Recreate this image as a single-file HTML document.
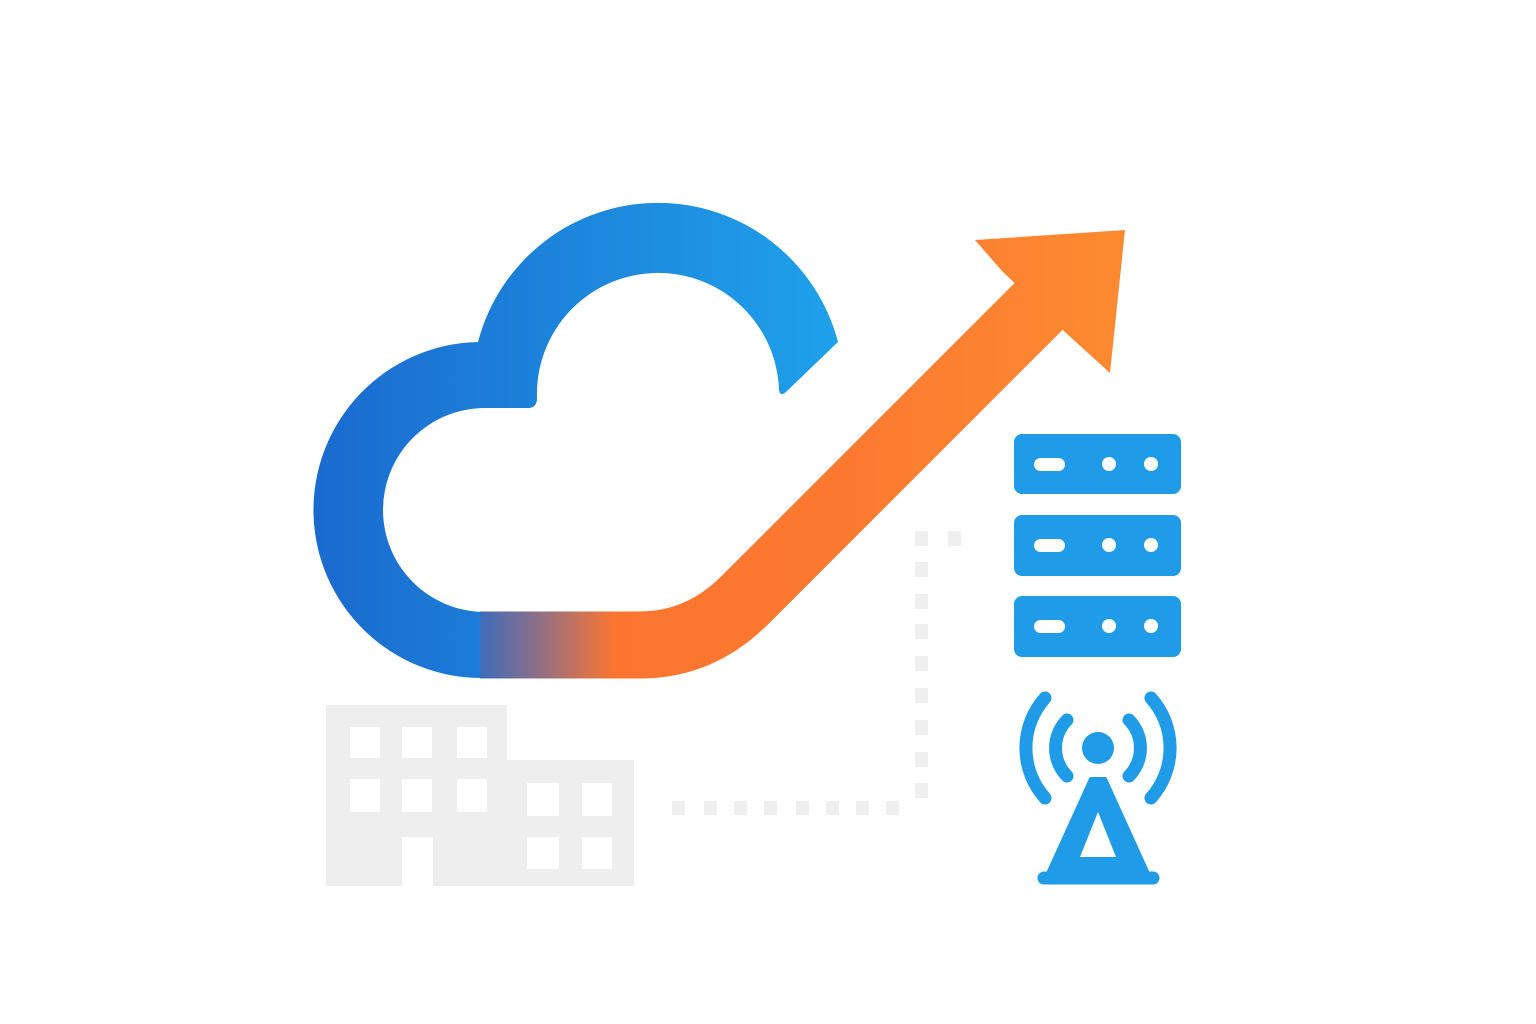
<!DOCTYPE html>
<html><head><style>html,body{margin:0;padding:0;background:#fff;}svg{display:block}</style></head>
<body>
<svg width="1536" height="1024" viewBox="0 0 1536 1024" xmlns="http://www.w3.org/2000/svg">
<defs>
<linearGradient id="cg" x1="320" y1="0" x2="840" y2="0" gradientUnits="userSpaceOnUse">
<stop offset="0" stop-color="#1a6bcf"/><stop offset="1" stop-color="#1fa1ea"/></linearGradient>
<linearGradient id="ag" x1="455" y1="0" x2="1120" y2="0" gradientUnits="userSpaceOnUse">
<stop offset="0" stop-color="#1a6bcf"/><stop offset="0.12" stop-color="#8a6f8a"/><stop offset="0.24" stop-color="#fb7530"/><stop offset="0.6" stop-color="#fc7a30"/><stop offset="1" stop-color="#fd8a30"/></linearGradient>
</defs>
<g fill="#efefef">
<rect x="672" y="801" width="13" height="14"/><rect x="704" y="801" width="13" height="14"/><rect x="734" y="801" width="13" height="14"/><rect x="764" y="801" width="13" height="14"/><rect x="796" y="801" width="13" height="14"/><rect x="826" y="801" width="13" height="14"/><rect x="856" y="801" width="13" height="14"/><rect x="886" y="801" width="13" height="14"/>
<rect x="915" y="783" width="13" height="15"/><rect x="915" y="752" width="13" height="15"/><rect x="915" y="720" width="13" height="15"/><rect x="915" y="688" width="13" height="15"/><rect x="915" y="656" width="13" height="15"/><rect x="915" y="624" width="13" height="15"/><rect x="915" y="594" width="13" height="15"/><rect x="915" y="562" width="13" height="15"/><rect x="915" y="531" width="13" height="15"/><rect x="948" y="531" width="13" height="15"/>
</g>
<path d="M326 705 H507 V760 H634 V886 H433 V837 H402 V886 H326 Z" fill="#eeeeee"/>
<g fill="#fff">
<rect x="350" y="727" width="30" height="31"/><rect x="402" y="727" width="30" height="31"/><rect x="457" y="727" width="30" height="31"/>
<rect x="350" y="779" width="30" height="33"/><rect x="402" y="779" width="30" height="33"/><rect x="457" y="779" width="30" height="33"/>
<rect x="527" y="783" width="32" height="33"/><rect x="582" y="783" width="30" height="33"/>
<rect x="527" y="837" width="32" height="32"/><rect x="582" y="837" width="30" height="32"/>
</g>
<path d="M838 342 A186 186 0 0 0 478 342 A168 168 0 0 0 485 678 L492 678 L492 612 L485 612 A102 102 0 0 1 485 408 L528 408 Q537 408 537 398 A121 121 0 0 1 779 390 Q780 397 786 392 Z" fill="url(#cg)"/>
<path d="M480 645 L640 645 Q700 645 745 600 L1060 285" fill="none" stroke="url(#ag)" stroke-width="67"/>
<polygon points="975,240 1125,230 1110,373 1066,333 1002,271" fill="url(#ag)"/>
<g fill="#1f9be8">
<rect x="1014" y="434" width="167" height="60" rx="8"/><rect x="1014" y="515" width="167" height="61" rx="8"/><rect x="1014" y="596" width="167" height="61" rx="8"/>
</g>
<g fill="#fff">
<rect x="1034" y="458" width="31" height="13" rx="6.5"/><circle cx="1109" cy="464" r="7"/><circle cx="1151" cy="464" r="7"/>
<rect x="1034" y="539" width="31" height="13" rx="6.5"/><circle cx="1109" cy="545" r="7"/><circle cx="1151" cy="545" r="7"/>
<rect x="1034" y="620" width="31" height="13" rx="6.5"/><circle cx="1109" cy="626" r="7"/><circle cx="1151" cy="626" r="7"/>
</g>
<g fill="none" stroke="#1f9be8" stroke-width="13" stroke-linecap="round" stroke-linejoin="round">
<path d="M1067 720 A40 40 0 0 0 1067 776"/><path d="M1129 720 A40 40 0 0 1 1129 776"/>
<path d="M1045 698 A75 75 0 0 0 1045 798"/><path d="M1151 698 A75 75 0 0 1 1151 798"/>
<path d="M1044 878 H1153"/>
</g>
<polygon points="1091,779 1105,779 1150,878 1046,878" fill="#1f9be8" stroke="#1f9be8" stroke-width="4" stroke-linejoin="round"/>
<polygon points="1098,812 1116,857 1080,857" fill="#fff"/>
<circle cx="1098" cy="748" r="16" fill="#1f9be8"/>
</svg>
</body></html>
